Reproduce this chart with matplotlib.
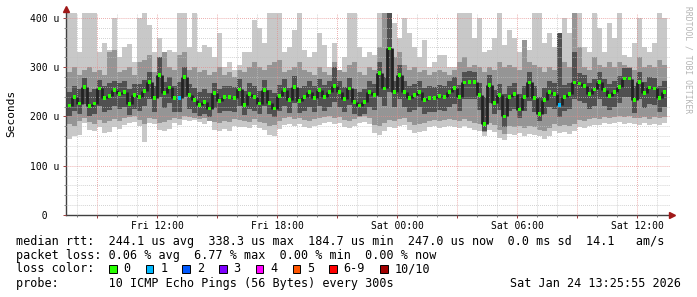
import numpy as np
import matplotlib
matplotlib.use("Agg")
import matplotlib.pyplot as plt
from matplotlib.patches import Rectangle

W, H = 697, 297

# 15 minute bins, hours counted from Fri 00:00
start_hour = 7.5
bin_hours = 0.25

median = [
    222, 240, 226, 260, 221, 226, 257, 237, 242, 254,
    245, 250, 225, 244, 240, 252, 270, 237, 284, 247,
    259, 237, 237, 280, 244, 233, 223, 230, 216, 247,
    232, 240, 240, 237, 255, 223, 246, 240, 226, 254,
    228, 216, 242, 254, 233, 260, 232, 240, 250, 237,
    254, 240, 250, 262, 250, 235, 257, 230, 222, 230,
    250, 244, 288, 257, 338, 250, 284, 250, 237, 244,
    250, 233, 237, 237, 242, 240, 250, 258, 240, 269,
    270, 270, 244, 185, 264, 228, 244, 200, 240, 245,
    214, 240, 269, 237, 205, 233, 250, 246, 223, 240,
    246, 269, 267, 262, 246, 255, 270, 254, 242, 250,
    260, 277, 277, 233, 270, 247, 259, 257, 237, 250,
]
loss = [0] * 120
loss[22] = 1
loss[98] = 1

outer_hi = [
    420, 420, 330, 420, 420, 410, 330, 350, 335, 400,
    320, 340, 348, 310, 400, 420, 385, 330, 360, 320,
    335, 330, 420, 420, 340, 420, 330, 345, 340, 320,
    370, 300, 310, 295, 305, 330, 330, 395, 380, 350,
    420, 420, 420, 330, 340, 375, 420, 335, 320, 330,
    370, 345, 300, 350, 295, 320, 420, 420, 340, 320,
    330, 325, 420, 420, 420, 390, 360, 400, 370, 340,
    320, 355, 300, 310, 325, 325, 300, 300, 420, 420,
    410, 360, 400, 330, 335, 360, 420, 345, 375, 360,
    330, 320, 335, 420, 420, 350, 370, 340, 370, 400,
    370, 420, 420, 340, 330, 420, 380, 330, 390, 360,
    420, 325, 320, 350, 400, 340, 330, 350, 420, 400,
]
outer_lo = [
    155, 160, 163, 186, 173, 170, 178, 166, 168, 179,
    175, 182, 186, 188, 180, 149, 186, 184, 173, 170,
    175, 186, 183, 193, 190, 192, 189, 185, 190, 173,
    170, 175, 170, 180, 179, 178, 176, 182, 176, 172,
    163, 160, 175, 183, 185, 180, 184, 179, 176, 180,
    183, 186, 188, 185, 186, 179, 176, 180, 186, 188,
    184, 166, 163, 170, 179, 176, 180, 183, 172, 166,
    168, 170, 178, 180, 176, 179, 181, 179, 177, 180,
    176, 173, 170, 160, 172, 168, 157, 152, 165, 163,
    166, 160, 164, 163, 160, 155, 160, 170, 166, 168,
    165, 170, 179, 176, 180, 183, 182, 186, 184, 186,
    188, 185, 187, 184, 183, 186, 182, 185, 183, 186,
]
mid_hi = [
    290, 300, 285, 295, 300, 290, 295, 285, 330, 335,
    290, 295, 300, 285, 310, 315, 325, 290, 300, 330,
    300, 295, 325, 330, 295, 300, 290, 295, 285, 290,
    300, 285, 290, 280, 295, 290, 300, 310, 300, 295,
    305, 310, 315, 290, 295, 300, 310, 295, 290, 285,
    300, 290, 285, 310, 295, 290, 305, 310, 290, 285,
    300, 295, 340, 420, 420, 320, 330, 305, 295, 300,
    290, 295, 285, 290, 295, 290, 285, 295, 310, 320,
    300, 305, 300, 290, 300, 295, 310, 300, 305, 300,
    295, 355, 310, 305, 300, 290, 300, 295, 370, 310,
    300, 420, 340, 300, 295, 320, 305, 300, 310, 300,
    310, 305, 300, 295, 320, 300, 305, 300, 315, 305,
]
mid_lo = [
    185, 180, 190, 196, 188, 185, 192, 186, 190, 195,
    190, 196, 198, 200, 192, 185, 196, 194, 186, 188,
    192, 196, 194, 200, 198, 196, 194, 196, 190, 188,
    186, 190, 188, 194, 192, 190, 188, 194, 188, 186,
    180, 182, 190, 196, 198, 194, 196, 192, 190, 194,
    196, 198, 200, 197, 198, 192, 190, 194, 198, 200,
    196, 182, 180, 186, 192, 190, 194, 196, 188, 182,
    184, 186, 190, 192, 190, 192, 194, 192, 190, 194,
    190, 186, 184, 168, 186, 182, 172, 165, 180, 178,
    180, 176, 180, 178, 172, 170, 176, 184, 180, 182,
    180, 184, 192, 190, 194, 196, 194, 198, 196, 198,
    200, 198, 200, 196, 196, 198, 195, 198, 196, 198,
]
dark_hi = [
    250, 262, 255, 278, 250, 255, 275, 262, 268, 272,
    268, 272, 255, 266, 265, 275, 290, 262, 320, 270,
    280, 262, 270, 300, 266, 258, 250, 256, 248, 268,
    256, 262, 262, 260, 276, 252, 268, 262, 252, 274,
    254, 248, 264, 276, 258, 282, 258, 262, 272, 262,
    276, 264, 272, 300, 272, 260, 278, 256, 250, 256,
    272, 266, 310, 280, 420, 272, 305, 272, 262, 266,
    272, 258, 262, 260, 264, 262, 272, 280, 264, 290,
    292, 290, 268, 240, 285, 254, 266, 245, 262, 268,
    245, 262, 290, 262, 240, 258, 272, 268, 370, 264,
    268, 330, 288, 284, 268, 276, 290, 276, 266, 272,
    282, 298, 298, 262, 290, 270, 280, 278, 262, 272,
]
dark_lo = [
    200, 212, 204, 225, 200, 204, 222, 210, 214, 222,
    215, 220, 202, 215, 212, 222, 235, 210, 240, 218,
    228, 210, 210, 240, 215, 208, 200, 206, 198, 218,
    208, 212, 212, 210, 222, 202, 216, 212, 204, 222,
    204, 198, 212, 222, 208, 228, 208, 212, 220, 210,
    222, 212, 220, 230, 220, 210, 224, 206, 200, 206,
    220, 214, 240, 222, 250, 220, 235, 220, 210, 214,
    220, 206, 210, 210, 214, 212, 220, 226, 212, 235,
    236, 236, 214, 170, 228, 204, 214, 178, 212, 216,
    196, 212, 232, 210, 190, 206, 220, 216, 198, 212,
    216, 235, 232, 228, 216, 222, 235, 222, 214, 220,
    228, 240, 240, 208, 235, 218, 226, 224, 210, 220,
]

x_ticks = [12, 18, 24, 30, 36]
x_labels = ["Fri 12:00", "Fri 18:00", "Sat 00:00", "Sat 06:00", "Sat 12:00"]
y_ticks = [0, 100, 200, 300, 400]
y_labels = ["  0", "100 u", "200 u", "300 u", "400 u"]

loss_labels = ["0", "1", "2", "3", "4", "5", "6-9", "10/10"]
loss_colors = ["#26ff00", "#00b8ff", "#0059ff", "#7e00ff", "#ff00ff",
               "#ff5500", "#ff0000", "#a10000"]

rtt_line = "median rtt:  244.1 us avg  338.3 us max  184.7 us min  247.0 us now  0.0 ms sd  14.1   am/s"
loss_line = "packet loss: 0.06 % avg  6.77 % max  0.00 % min  0.00 % now"
probe_line = "probe:       10 ICMP Echo Pings (56 Bytes) every 300s"
stamp = "Sat Jan 24 13:25:55 2026"

MONO = "DejaVu Sans Mono"
plt.rcParams["font.family"] = MONO


def px(x, y):
    return x / W, 1 - y / H


n = len(median)
t = start_hour + bin_hours * np.arange(n + 1)
tc = t[:-1] + bin_hours / 2
med = np.asarray(median, dtype=float)


def ext(a):
    a = np.asarray(a, dtype=float)
    return np.append(a, a[-1])


fig = plt.figure(figsize=(W / 100, H / 100), dpi=100)
ax = fig.add_axes([66 / W, 1 - 215 / H, (670 - 66) / W, (215 - 13) / H])

ax.fill_between(t, ext(outer_lo), ext(outer_hi), step="post", color="#c8c8c8", lw=0, zorder=1)
ax.fill_between(t, ext(mid_lo), ext(mid_hi), step="post", color="#959595", lw=0, zorder=1.5)
ax.fill_between(t, ext(dark_lo), ext(dark_hi), step="post", color="#505050", lw=0, zorder=2)
# dark jumps between successive medians
ax.vlines(t[1:-1], np.minimum(med[:-1], med[1:]), np.maximum(med[:-1], med[1:]),
          color="#222222", lw=2.0, zorder=3)
ax.scatter(tc, median, marker="s", s=7, lw=0,
           c=[loss_colors[v] for v in loss], zorder=4)

ax.set_xlim(7.45, 37.65)
ax.set_ylim(0, 410)

ax.set_xticks(np.arange(9, 37, 3))
ax.set_xticklabels([x_labels[x_ticks.index(v)] if v in x_ticks else "" for v in np.arange(9, 37, 3)])
ax.set_xticks(np.arange(8, 38, 1), minor=True)
ax.set_yticks(y_ticks)
ax.set_yticklabels(y_labels)
ax.set_yticks(np.arange(0, 401, 20), minor=True)

ax.grid(which="minor", color="#c0c0c0", lw=0.7, linestyle=(0, (0.7, 1.4)))
ax.grid(which="major", color="#e48c8c", lw=0.7, linestyle=(0, (0.7, 1.4)))
ax.set_axisbelow(False)

for s in ["top", "right"]:
    ax.spines[s].set_visible(False)
for s in ["left", "bottom"]:
    ax.spines[s].set_color("#404040")
    ax.spines[s].set_linewidth(1.0)

ax.tick_params(axis="x", which="major", length=2.5, width=0.7, color="#9b4040",
               labelsize=7, pad=2)
ax.tick_params(axis="x", which="minor", length=1.5, width=0.7, color="#808080")
ax.tick_params(axis="y", which="major", length=2.2, width=0.7, color="#9b4040",
               labelsize=7, pad=23.7)
ax.tick_params(axis="y", which="minor", length=1.4, width=0.7, color="#808080")
for lab in ax.get_yticklabels():
    lab.set_horizontalalignment("left")

# axis arrows
ax.plot([7.45], [418], marker="^", ms=4, color="#a01818", clip_on=False, zorder=6)
ax.plot([37.75], [0], marker=">", ms=4, color="#a01818", clip_on=False, zorder=6)

fig.text(*px(11, 113), "Seconds", rotation=90, ha="center", va="center", fontsize=8)
fig.text(*px(688, 60), "RRDTOOL / TOBI OETIKER", rotation=270, ha="center",
         va="center", fontsize=5.8, color="#b4b4b4")

fs = 8.5
cw = 0.602 * fs * 100 / 72
fig.text(*px(15.5, 245.5), rtt_line, fontsize=fs, va="baseline")
fig.text(*px(15.5, 259), loss_line, fontsize=fs, va="baseline")
fig.text(*px(15.5, 272.5), "loss color:", fontsize=fs, va="baseline")
fig.text(*px(15.5, 286.5), probe_line, fontsize=fs, va="baseline")
fig.text(*px(681, 287), stamp, fontsize=fs, va="baseline", ha="right")

bx = 109
for lab, col in zip(loss_labels, loss_colors):
    x0, y0 = px(bx, 272.5)
    fig.patches.append(Rectangle((x0, y0), 7.5 / W, 8 / H, transform=fig.transFigure,
                                 facecolor=col, edgecolor="black", lw=0.7))
    fig.text(*px(bx + 14.5, 272.5), lab, fontsize=fs, va="baseline")
    bx += 14.5 + len(lab) * cw + 15.1

fig.savefig("out.png", dpi=100, facecolor="white")
